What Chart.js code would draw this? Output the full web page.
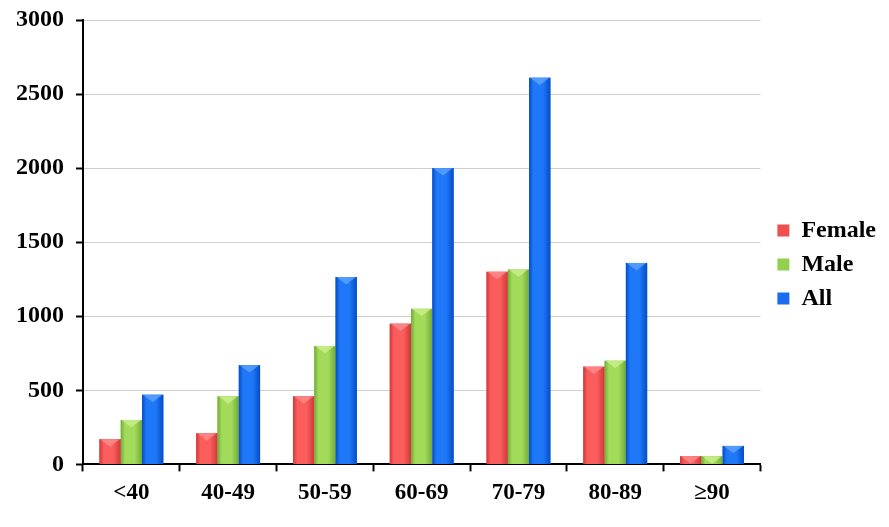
<!DOCTYPE html>
<html>
<head>
<meta charset="utf-8">
<script src="https://cdn.jsdelivr.net/npm/chart.js@4"></script>
<style>
  html, body { margin: 0; padding: 0; background: #fff; }
  #wrap { width: 889px; height: 527px; }
</style>
</head>
<body>
<div id="wrap"><canvas id="ageChart"></canvas></div>
<script>
var ageGroups = ['<40', '40-49', '50-59', '60-69', '70-79', '80-89', '\u226590'];
var femaleCounts = [170, 210, 460, 950, 1300, 660, 55];
var maleCounts = [300, 460, 800, 1050, 1315, 700, 55];
var allCounts = [470, 670, 1265, 2000, 2610, 1360, 125];
var yTicks = [0, 500, 1000, 1500, 2000, 2500, 3000];

// edge / centre / top shades for the bevelled bars
var shades = [
    { edge: '#d03838', mid: '#fb5c5c', top: '#ff9090' },
    { edge: '#72aa38', mid: '#a2da5a', top: '#ccf090' },
    { edge: '#044cc8', mid: '#1f78f8', top: '#64a6ff' }
];

var serif = 'Liberation Serif';

var bevelBars = {
    id: 'bevelBars',
    afterLayout: function (chart) {
        // legend sits a bit further right in the original
        var lg = chart.legend;
        if (lg) {
            lg.top -= 3;
            lg.bottom -= 3;
            lg.left += 7;
            lg.right += 7;
        }
    },
    afterDatasetsDraw: function (chart) {
        var ctx = chart.ctx;
        chart.data.datasets.forEach(function (ds, i) {
            var meta = chart.getDatasetMeta(i);
            var s = shades[i];
            meta.data.forEach(function (bar) {
                var w = bar.width;
                var left = bar.x - w / 2;
                var top = bar.y;
                var h = bar.base - bar.y;
                var g = ctx.createLinearGradient(left, 0, left + w, 0);
                g.addColorStop(0, s.edge);
                g.addColorStop(0.2, s.mid);
                g.addColorStop(0.65, s.mid);
                g.addColorStop(1, s.edge);
                ctx.save();
                ctx.fillStyle = g;
                ctx.fillRect(left, top, w, h);
                var bev = Math.min(w * 0.35, h);
                ctx.fillStyle = s.top;
                ctx.globalAlpha = 0.75;
                ctx.beginPath();
                ctx.moveTo(left + 1, top);
                ctx.lineTo(left + w - 1, top);
                ctx.lineTo(left + w / 2, top + bev);
                ctx.closePath();
                ctx.fill();
                ctx.restore();
            });
        });
    }
};

new Chart(document.getElementById('ageChart'), {
    type: 'bar',
    data: {
        labels: ageGroups,
        datasets: [{
            label: 'Female',
            data: femaleCounts,
            backgroundColor: '#f05050'
        }, {
            label: 'Male',
            data: maleCounts,
            backgroundColor: '#92d050'
        }, {
            label: 'All',
            data: allCounts,
            backgroundColor: '#1a6cf0'
        }]
    },
    options: {
        responsive: true,
        maintainAspectRatio: false,
        animation: false,
        layout: {
            padding: { top: 20, left: 4, right: 10, bottom: 12 }
        },
        datasets: {
            bar: {
                categoryPercentage: 0.66,
                barPercentage: 1.0
            }
        },
        scales: {
            x: {
                grid: {
                    drawOnChartArea: false,
                    drawTicks: true,
                    tickLength: 7,
                    tickColor: '#000',
                    tickWidth: 2
                },
                border: { color: '#000', width: 2 },
                ticks: {
                    color: '#000',
                    padding: 8,
                    font: { family: serif, size: 23, weight: 'bold' }
                }
            },
            y: {
                min: 0,
                max: 3000,
                afterBuildTicks: function (axis) {
                    axis.ticks = yTicks.map(function (v) { return { value: v }; });
                },
                afterFit: function (axis) {
                    axis.paddingTop = 0;
                },
                grid: {
                    color: '#cfcfcf',
                    tickColor: '#000',
                    tickLength: 7,
                    tickWidth: 2
                },
                border: { color: '#000', width: 2 },
                ticks: {
                    color: '#000',
                    padding: 12,
                    font: { family: serif, size: 24, weight: 'bold' },
                    callback: function (v) { return String(v); }
                }
            }
        },
        plugins: {
            legend: {
                position: 'right',
                align: 'center',
                labels: {
                    color: '#000',
                    boxWidth: 12,
                    boxHeight: 12,
                    padding: 10,
                    font: { family: serif, size: 24, weight: 'bold' }
                }
            },
            tooltip: { enabled: false }
        }
    },
    plugins: [bevelBars]
});
</script>
</body>
</html>
